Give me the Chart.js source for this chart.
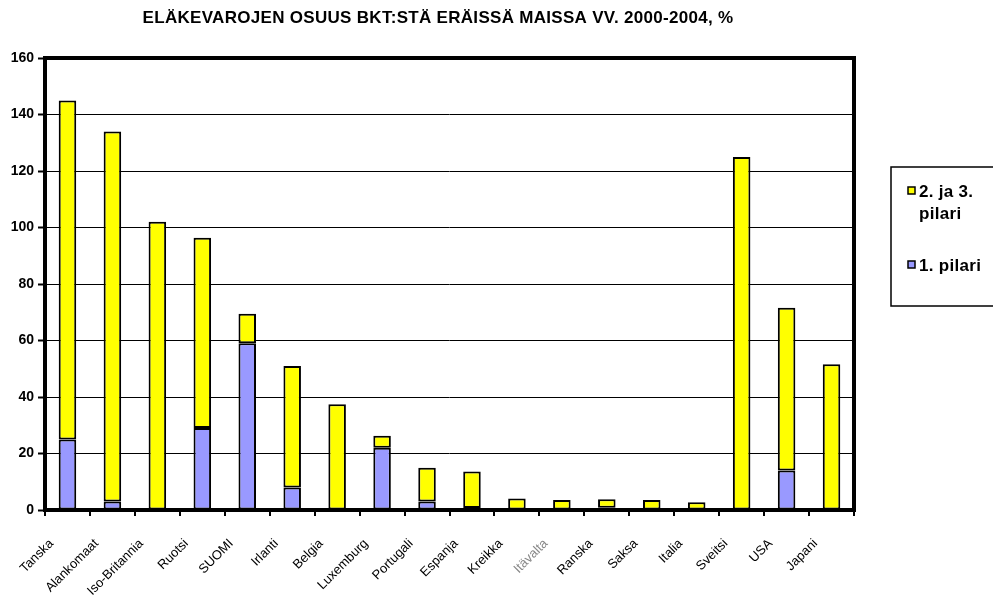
<!DOCTYPE html>
<html>
<head>
<meta charset="utf-8">
<script src="https://cdn.jsdelivr.net/npm/chart.js@4"></script>
<style>
  body { margin: 0; background: #fff; }
</style>
</head>
<body>
<canvas id="myChart" width="993" height="606"></canvas>
<script>
const countries = ['Tanska', 'Alankomaat', 'Iso-Britannia', 'Ruotsi', 'SUOMI', 'Irlanti', 'Belgia',
  'Luxemburg', 'Portugali', 'Espanja', 'Kreikka', 'Itävalta', 'Ranska', 'Saksa', 'Italia',
  'Sveitsi', 'USA', 'Japani'];
const pilari1 = [25, 3, 0, 29, 59, 8, 0, 22, 3, 0.7, 0, 0, 0.8, 0, 0, 0, 14, 0];
const pilari23 = [120, 131, 102, 67.4, 10.5, 43, 37.4, 4.3, 12, 12.9, 4.1, 3.5, 3, 3.5, 2.7, 125, 57.6, 51.6];
const seriesNames = ['1. pilari', '2. ja 3. pilari'];
const yMin = 0, yMax = 160, yStep = 20;
const title = 'ELÄKEVAROJEN OSUUS BKT:STÄ ERÄISSÄ MAISSA VV. 2000-2004, %';

const font = 'Liberation Sans, Arial, sans-serif';

// title, frame round the plot area, and the boxed legend on the right
const extrasPlugin = {
  id: 'extras',
  afterDraw(chart) {
    const ctx = chart.ctx;
    const a = chart.chartArea;
    ctx.save();
    ctx.strokeStyle = '#000';
    ctx.lineWidth = 4;
    ctx.strokeRect(a.left, a.top, a.right - a.left, a.bottom - a.top);

    // title
    ctx.fillStyle = '#000';
    ctx.font = 'bold 17px ' + font;
    ctx.letterSpacing = '0.3px';
    ctx.textAlign = 'center';
    ctx.textBaseline = 'middle';
    ctx.fillText(title, 438, 18);

    // legend
    ctx.textAlign = 'left';
    ctx.lineWidth = 1.5;
    ctx.strokeRect(891, 167, 120, 139);
    ctx.font = 'bold 17px ' + font;
    ctx.letterSpacing = '0.3px';
    const items = chart.data.datasets.slice().reverse();
    const rows = [192, 266];
    items.forEach((ds, i) => {
      const y = rows[i];
      ctx.fillStyle = ds.backgroundColor;
      ctx.fillRect(908, y - 5, 7, 7);
      ctx.strokeStyle = '#000';
      ctx.lineWidth = 1.5;
      ctx.strokeRect(908, y - 5, 7, 7);
      const words = ds.label.split(' ');
      const lines = [];
      let cur = '';
      words.forEach(w => {
        const t = cur ? cur + ' ' + w : w;
        if (ctx.measureText(t).width > 72 && cur) { lines.push(cur); cur = w; }
        else cur = t;
      });
      lines.push(cur);
      ctx.fillStyle = '#000';
      lines.forEach((l, j) => ctx.fillText(l, 919, y + j * 22));
    });
    ctx.restore();
  }
};

const data = {
  labels: countries,
  datasets: [{
    label: seriesNames[0],
    data: pilari1,
    backgroundColor: '#9999FF',
    borderColor: '#000',
    borderWidth: 2,
    borderSkipped: false,
    barPercentage: 0.39,
    categoryPercentage: 1
  },
  {
    label: seriesNames[1],
    data: pilari23,
    backgroundColor: '#FFFF00',
    borderColor: '#000',
    borderWidth: 2,
    borderSkipped: false,
    barPercentage: 0.39,
    categoryPercentage: 1
  }]
};

const config = {
  type: 'bar',
  data: data,
  options: {
    responsive: false,
    animation: false,
    devicePixelRatio: 1,
    layout: { padding: { left: 0, right: 139, top: 58, bottom: 0 } },
    plugins: {
      legend: { display: false },
      tooltip: { enabled: false },
      title: { display: false }
    },
    scales: {
      x: {
        stacked: true,
        afterFit(scale) { scale.height = 96; },
        grid: { drawOnChartArea: false, color: '#000', lineWidth: 2, tickLength: 6 },
        border: { display: false },
        ticks: {
          autoSkip: false,
          minRotation: 45,
          maxRotation: 45,
          padding: 20,
          labelOffset: -16,
          color: c => c.index === 11 ? '#888' : '#000',
          font: { family: font, size: 13 }
        }
      },
      y: {
        stacked: true,
        min: yMin,
        max: yMax,
        afterFit(scale) { scale.width = 45; },
        grid: { color: '#000', lineWidth: 1, tickLength: 7, tickColor: '#000', tickWidth: 2 },
        border: { display: false },
        ticks: {
          stepSize: yStep,
          padding: 4,
          color: '#000',
          font: { family: font, size: 14, weight: 'bold' }
        }
      }
    }
  },
  plugins: [extrasPlugin]
};

const myChart = new Chart(document.getElementById('myChart'), config);
</script>
</body>
</html>
